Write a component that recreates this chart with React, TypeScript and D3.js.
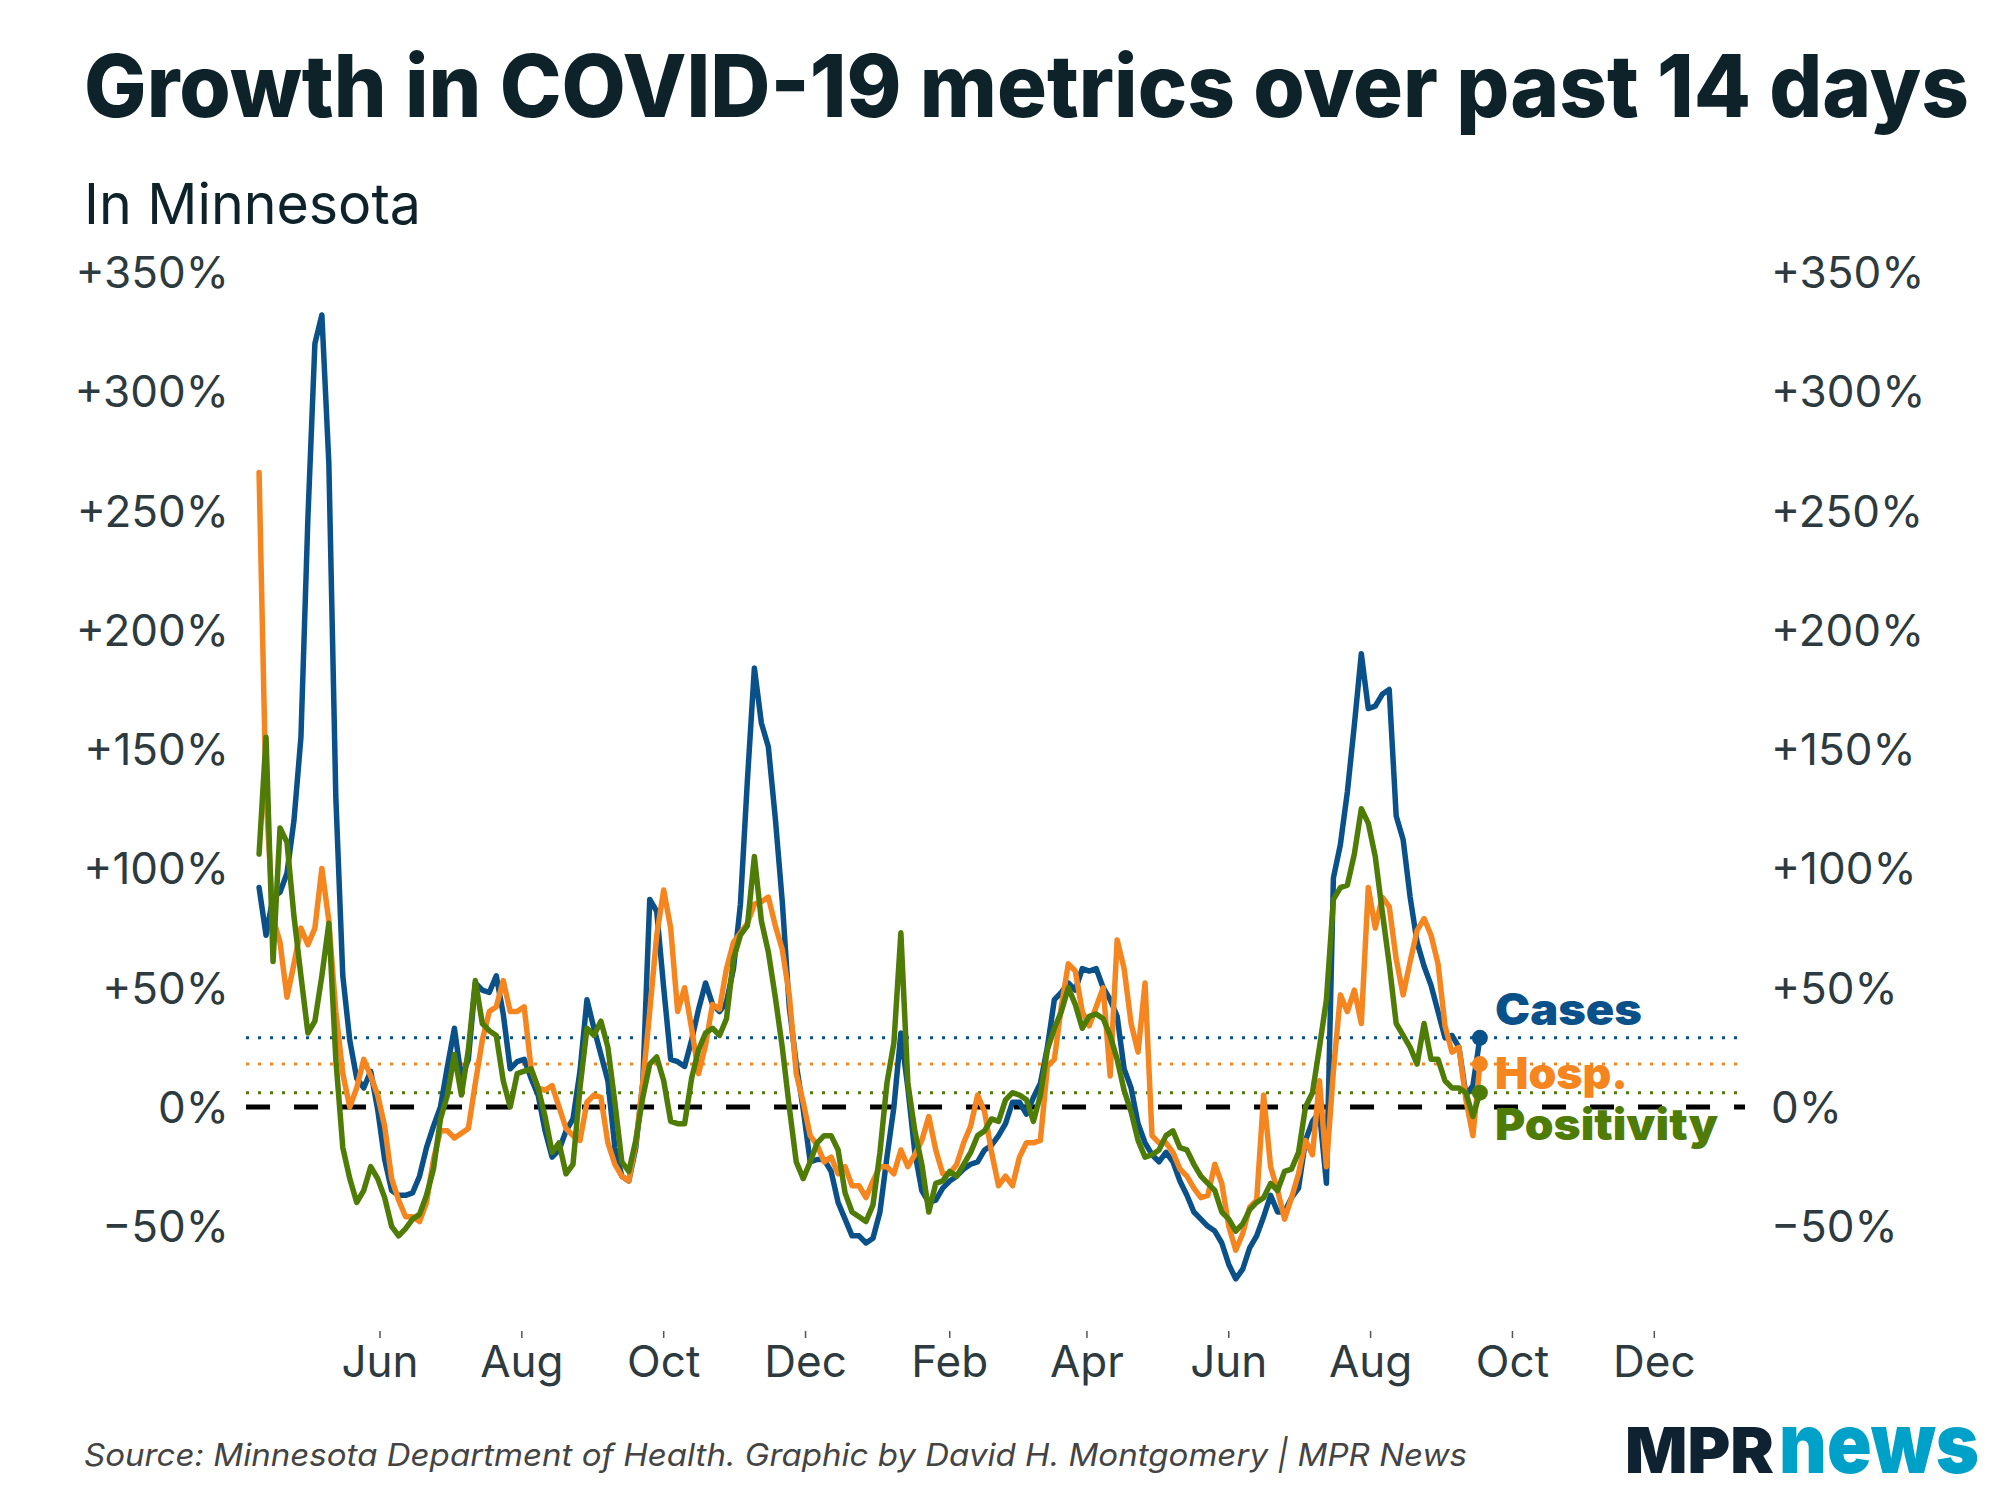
import React from "react";
import * as d3 from "d3";

// ---- Data (14-day growth, %), one value every 3 days starting 2020-04-10 ----
const START_DATE = "2020-04-10";
const STEP_DAYS = 3;

const casesGrowth = [
  92, 72, 88, 90, 98, 120, 155, 247, 320, 332,
  270, 130, 55, 28, 12, 8, 15, -1, -22, -35,
  -37, -37, -36, -29, -17, -8, 0, 17, 33, 12,
  20, 52, 49, 48, 55, 39, 16, 19, 20, 12,
  5, -10, -21, -18, -10, -5, 15, 45, 33, 22,
  11, -17, -29, -31, -17, 10, 87, 82, 50, 20,
  19, 17, 28, 41, 52, 43, 40, 44, 58, 85,
  137, 184, 161, 151, 121, 86, 42, 18, -1, -23,
  -22, -22, -27, -40, -47, -54, -54, -57, -55, -44,
  -21, 0, 31, 8, -19, -35, -40, -39, -34, -31,
  -29, -26, -24, -23, -18, -16, -12, -7, 2, 2,
  -3, 4, 10, 25, 45, 48, 52, 49, 58, 57,
  58, 50, 45, 38, 16, 8, -7, -15, -20, -23,
  -19, -23, -31, -37, -44, -47, -50, -52, -57, -66,
  -72, -68, -59, -54, -46, -37, -44, -44, -38, -34,
  -14, -6, -2, -32, 96, 110, 132, 160, 190, 167,
  168, 173, 175, 122, 112, 88, 69, 59, 51, 40,
  29, 30, 25, 5, 9, 29,
];

const hospGrowth = [
  266, 130, 79, 69, 46, 60, 75, 68, 75, 100,
  78, 40, 14, 0, 8, 20, 13, 5, -8, -30,
  -39, -46, -46, -48, -40, -22, -10, -10, -13, -11,
  -9, 10, 28, 40, 42, 53, 40, 40, 42, 16,
  8, 7, 9, 0, -9, -12, -14, 2, 5, 4,
  -15, -24, -29, -31, -15, 10, 40, 72, 91, 75,
  40, 50, 33, 14, 26, 43, 41, 58, 69, 73,
  77, 85, 86, 88, 76, 66, 47, 14, 2, -12,
  -16, -23, -21, -28, -25, -33, -33, -38, -31, -25,
  -25, -28, -18, -25, -20, -14, -4, -18, -28, -28,
  -24, -15, -8, 5, -2, -19, -33, -29, -33, -21,
  -15, -15, -14, 17, 20, 42, 60, 57, 40, 34,
  42, 50, 13, 70, 58, 35, 23, 52, -12, -15,
  -15, -19, -26, -29, -34, -38, -37, -24, -32, -50,
  -60, -53, -42, -39, 5, -25, -35, -47, -38, -28,
  -14, -20, 11, -25, 15, 47, 40, 49, 35, 92,
  75, 88, 84, 62, 47, 61, 74, 79, 72, 60,
  34, 23, 25, 3, -12, 18,
];

const positivityGrowth = [
  106, 155, 61, 117, 111, 80, 55, 31, 36, 55,
  77, 20, -17, -30, -40, -35, -25, -30, -38, -50,
  -54, -51, -47, -45, -37, -26, -5, 5, 22, 5,
  24, 53, 35, 32, 30, 11, 0, 14, 15, 16,
  8, -4, -19, -15, -28, -24, 8, 33, 30, 36,
  25, 2, -23, -27, -14, 4, 18, 21, 11, -6,
  -7, -7, 12, 24, 31, 33, 30, 37, 62, 72,
  76, 105, 78, 65, 46, 25, 0, -23, -30, -23,
  -15, -12, -12, -18, -36, -44, -46, -48, -41, -19,
  10, 27, 73, 10, -10, -24, -44, -32, -31, -27,
  -29, -24, -19, -12, -10, -5, -6, 3, 6, 5,
  3, -6, 5, 24, 33, 40, 50, 43, 33, 38,
  39, 37, 30, 20, 7, -2, -14, -21, -20, -18,
  -12, -10, -17, -18, -24, -29, -32, -35, -44, -47,
  -52, -49, -43, -40, -38, -32, -35, -27, -26, -19,
  0, 6, 25, 45, 87, 92, 93, 106, 125, 119,
  105, 82, 60, 35, 30, 25, 18, 35, 20, 20,
  11, 8, 8, 6, -4, 6,
];

const seriesNames = ["Cases", "Hosp.", "Positivity"];
const seriesColors = ["#0b5189", "#f5861f", "#4f7c06"];

const yTickValues = [-50, 0, 50, 100, 150, 200, 250, 300, 350];
const xTickDates = [
  "2020-06-01", "2020-08-01", "2020-10-01", "2020-12-01", "2021-02-01",
  "2021-04-01", "2021-06-01", "2021-08-01", "2021-10-01", "2021-12-01",
];
const xTickLabels = ["Jun", "Aug", "Oct", "Dec", "Feb", "Apr", "Jun", "Aug", "Oct", "Dec"];

const TITLE = "Growth in COVID-19 metrics over past 14 days";
const SUBTITLE = "In Minnesota";
const SOURCE = "Source: Minnesota Department of Health. Graphic by David H. Montgomery | MPR News";

const FONT = "Inter, 'Noto Sans', 'DejaVu Sans', sans-serif";

function fmtPct(v: number) {
  if (v > 0) return `+${v}%`;
  if (v < 0) return `\u2212${Math.abs(v)}%`;
  return "0%";
}

export default function App() {
  const W = 2000;
  const H = 1500;
  const frameLeft = 246;
  const frameRight = 1745;

  const x = d3
    .scaleUtc()
    .domain([new Date("2020-06-01T00:00:00Z"), new Date("2021-12-01T00:00:00Z")])
    .range([380, 1654.3]);
  const y = d3.scaleLinear().domain([-50, 350]).range([1226.3, 272]);

  const start = new Date(START_DATE + "T00:00:00Z");
  const allSeries = [casesGrowth, hospGrowth, positivityGrowth].map((vals) =>
    vals.map((v, i) => ({ date: d3.utcDay.offset(start, i * STEP_DAYS), value: v }))
  );

  const line = d3
    .line<{ date: Date; value: number }>()
    .x((d) => x(d.date))
    .y((d) => y(d.value));

  const labelBaselines = [1025, 1089, 1140];
  const labelLengths = [147, 133, 223];
  const axisColor = "#2d3b40";

  return (
    <svg
      width={W}
      height={H}
      viewBox={`0 0 ${W} ${H}`}
      style={{ position: "absolute", left: 0, top: 0, background: "#fff" }}
      fontFamily={FONT}
    >
      <rect x={0} y={0} width={W} height={H} fill="#ffffff" />

      {/* Title & subtitle */}
      <text x={84} y={117} fontSize={86} fontWeight={800} fill="#0d2229" textLength={1885} lengthAdjust="spacingAndGlyphs">
        {TITLE}
      </text>
      <text x={84} y={224} fontSize={56} fontWeight={400} fill="#0d2229" textLength={337} lengthAdjust="spacingAndGlyphs">
        {SUBTITLE}
      </text>

      {/* Y axis labels (both sides) */}
      {yTickValues.map((v) => (
        <g key={v}>
          <text x={229} y={y(v)} fontSize={44} fill={axisColor} textAnchor="end" dominantBaseline="central">
            {fmtPct(v)}
          </text>
          <text x={1771} y={y(v)} fontSize={44} fill={axisColor} textAnchor="start" dominantBaseline="central">
            {fmtPct(v)}
          </text>
        </g>
      ))}

      {/* X axis ticks & labels */}
      {xTickDates.map((d, i) => {
        const xp = x(new Date(d + "T00:00:00Z"));
        return (
          <g key={d + i}>
            <line x1={xp} x2={xp} y1={1331} y2={1338} stroke="#555" strokeWidth={1.5} />
            <text x={xp} y={1377} fontSize={44} fill={axisColor} textAnchor="middle">
              {xTickLabels[i]}
            </text>
          </g>
        );
      })}

      {/* Reference dotted lines at latest values */}
      {allSeries.map((s, i) => {
        const last = s[s.length - 1];
        return (
          <line
            key={"ref" + i}
            x1={frameLeft}
            x2={frameRight}
            y1={y(last.value)}
            y2={y(last.value)}
            stroke={seriesColors[i]}
            strokeWidth={3}
            strokeDasharray="3 9"
          />
        );
      })}

      {/* Zero line */}
      <line x1={frameLeft} x2={frameRight} y1={y(0)} y2={y(0)} stroke="#000" strokeWidth={5} strokeDasharray="24 24" />

      {/* Series lines */}
      {allSeries.map((s, i) => (
        <path
          key={"line" + i}
          d={line(s) || ""}
          fill="none"
          stroke={seriesColors[i]}
          strokeWidth={5.5}
          strokeLinejoin="round"
          strokeLinecap="round"
        />
      ))}

      {/* End markers */}
      {allSeries.map((s, i) => {
        const last = s[s.length - 1];
        return <circle key={"dot" + i} cx={x(last.date)} cy={y(last.value)} r={8} fill={seriesColors[i]} />;
      })}

      {/* Series labels */}
      {seriesNames.map((n, i) => (
        <text
          key={n}
          x={1495}
          y={labelBaselines[i]}
          fontSize={44}
          fontWeight={900}
          fill={seriesColors[i]}
          textLength={labelLengths[i]}
          lengthAdjust="spacingAndGlyphs"
        >
          {n}
        </text>
      ))}

      {/* Footer */}
      <text x={84} y={1466} fontSize={31} fontStyle="italic" fill="#444" textLength={1383} lengthAdjust="spacingAndGlyphs">
        {SOURCE}
      </text>

      {/* MPR news logo */}
      <text x={1625} y={1473} fontSize={63} fontWeight={900} fill="#0f2231" textLength={149} lengthAdjust="spacingAndGlyphs">
        MPR
      </text>
      <text x={1779} y={1473} fontSize={84} fontWeight={900} fill="#00a1c9" textLength={200} lengthAdjust="spacingAndGlyphs">
        news
      </text>
    </svg>
  );
}
